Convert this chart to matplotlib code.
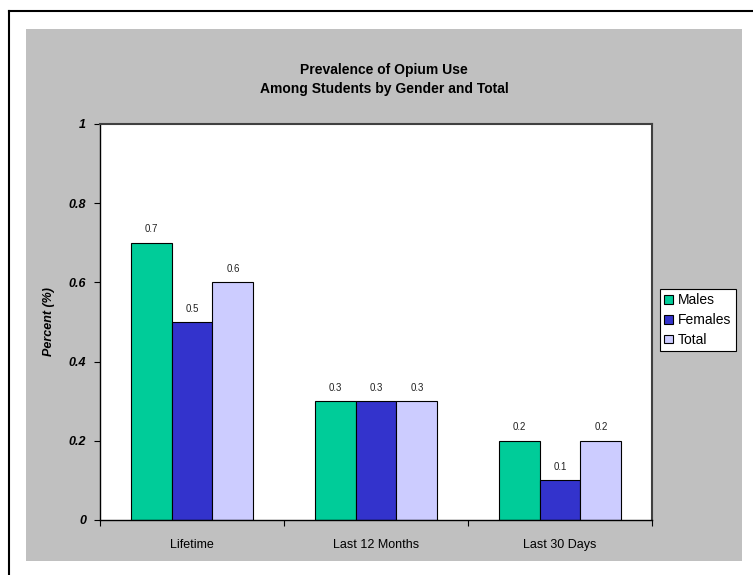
import matplotlib
matplotlib.use("Agg")
import matplotlib.pyplot as plt
from matplotlib.patches import Rectangle
from matplotlib.lines import Line2D
import numpy as np

plt.rcParams['font.family'] = ['Liberation Sans', 'DejaVu Sans']

# Data
categories = ["Lifetime", "Last 12 Months", "Last 30 Days"]
series_names = ["Males", "Females", "Total"]
males = [0.7, 0.3, 0.2]
females = [0.5, 0.3, 0.1]
total = [0.6, 0.3, 0.2]
colors = ["#00CC99", "#3333CC", "#CCCCFF"]
y_ticks = [0, 0.2, 0.4, 0.6, 0.8, 1.0]
y_tick_labels = ["0", "0.2", "0.4", "0.6", "0.8", "1"]

W, H = 753, 575
fig = plt.figure(figsize=(W / 100, H / 100), dpi=100)
fig.patch.set_facecolor("white")

def fx(px):
    return px / W

def fy(py):
    return 1 - py / H

# Gray chart area
fig.add_artist(Rectangle((fx(26), fy(561)), fx(742) - fx(26), fy(29) - fy(561),
                         transform=fig.transFigure, facecolor="#C0C0C0",
                         edgecolor="none", zorder=0))
# Outer frame lines (left and top)
fig.add_artist(Line2D([fx(9), fx(9)], [fy(11), 0], transform=fig.transFigure,
                      color="black", linewidth=1.5))
fig.add_artist(Line2D([fx(9), 1], [fy(11), fy(11)], transform=fig.transFigure,
                      color="black", linewidth=1.5))

# Plot area
ax = fig.add_axes([fx(100), fy(520), fx(652) - fx(100), fy(124) - fy(520)])
ax.set_facecolor("white")

x = np.arange(len(categories))
bw = 1 / 4.5
series = [males, females, total]
for i, (vals, name, c) in enumerate(zip(series, series_names, colors)):
    pos = x + (i - 1) * bw
    ax.bar(pos, vals, width=bw, color=c, edgecolor="black", linewidth=0.8,
           label=name, zorder=2)
    for px_, v in zip(pos, vals):
        ax.annotate(f"{v:g}", (px_, v), xytext=(0, 6), textcoords="offset points",
                    ha="center", va="bottom", fontsize=7, color="#222222")

ax.set_xlim(-0.5, 2.5)
ax.set_ylim(0, 1)
ax.set_yticks(y_ticks)
ax.set_yticklabels(y_tick_labels, fontsize=9, fontweight="bold", fontstyle="italic")
ax.tick_params(axis="y", length=4, width=0.8, pad=6)

ax.set_xticks(x)
ax.set_xticklabels(categories, fontsize=9)
ax.set_xticks([-0.5, 0.5, 1.5, 2.5], minor=True)
ax.tick_params(axis="x", which="major", length=0, pad=14)
ax.tick_params(axis="x", which="minor", length=4, width=0.8)

for side in ["left", "bottom"]:
    ax.spines[side].set_color("black")
    ax.spines[side].set_linewidth(1.0)
for side in ["top", "right"]:
    ax.spines[side].set_color("#404040")
    ax.spines[side].set_linewidth(1.5)

ax.set_ylabel("Percent (%)", fontsize=9, fontweight="bold", fontstyle="italic",
              labelpad=10)

# Title
fig.text(fx(384), fy(70), "Prevalence of Opium Use", ha="center", va="center",
         fontsize=10, fontweight="bold")
fig.text(fx(384), fy(89), "Among Students by Gender and Total", ha="center",
         va="center", fontsize=10, fontweight="bold")

# Legend
handles = [Rectangle((0, 0), 1, 1, facecolor=c, edgecolor="black", linewidth=0.8)
           for c in colors]
leg = fig.legend(handles, series_names, loc="upper left",
                 bbox_to_anchor=(fx(660), fy(289)), bbox_transform=fig.transFigure,
                 fontsize=10, frameon=True, fancybox=False, framealpha=1,
                 borderpad=0.3, handlelength=0.6, handleheight=0.6,
                 handletextpad=0.4, labelspacing=0.42, borderaxespad=0)
leg.get_frame().set_edgecolor("black")
leg.get_frame().set_linewidth(0.8)
leg.get_frame().set_facecolor("white")

fig.savefig("out.png", dpi=100)
